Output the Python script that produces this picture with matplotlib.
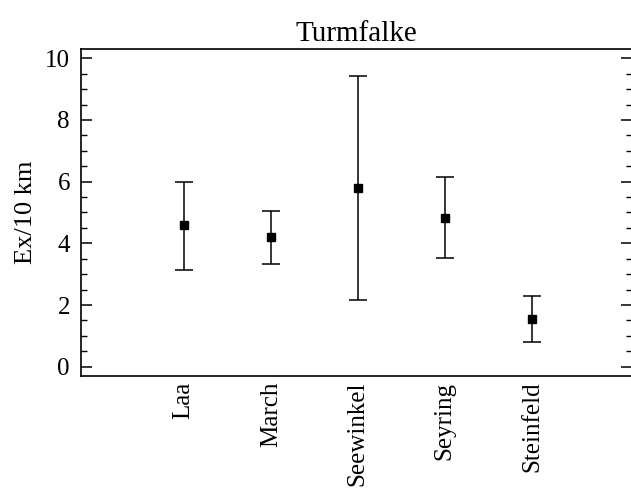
import matplotlib
matplotlib.use("Agg")
import matplotlib.pyplot as plt
from matplotlib.ticker import MultipleLocator

# data
sites = ["Laa", "March", "Seewinkel", "Seyring", "Steinfeld"]
mean = [4.59, 4.20, 5.78, 4.83, 1.55]
upper = [5.98, 5.06, 9.41, 6.14, 2.28]
lower = [3.15, 3.33, 2.15, 3.54, 0.80]

plt.rcParams["font.family"] = ["Liberation Serif", "DejaVu Serif"]

fig = plt.figure(figsize=(6.31, 4.91), dpi=100)
ax = fig.add_axes([81/631, 115/491, 551/631, 327/491])

pos = list(range(1, len(sites) + 1))
err = [[m - l for m, l in zip(mean, lower)], [u - m for m, u in zip(mean, upper)]]
ax.errorbar(pos, mean, yerr=err, fmt="s", color="black", ms=6,
            ecolor="black", elinewidth=1.1, capsize=6.5, capthick=1.1)

ax.set_xlim(-0.18, 6.15)
ax.set_ylim(-0.3, 10.3)
ax.set_xticks(pos)
ax.set_xticklabels(sites, rotation=90, fontsize=18)
ax.tick_params(axis="x", length=0, pad=4)
ax.yaxis.set_major_locator(MultipleLocator(2))
ax.yaxis.set_minor_locator(MultipleLocator(0.5))
ax.tick_params(axis="y", which="major", direction="in", length=8, width=1.1,
               labelsize=18, right=True, pad=8)
ax.tick_params(axis="y", which="minor", direction="in", length=4, width=1.0, right=True)
for s in ax.spines.values():
    s.set_linewidth(1.2)

ax.set_ylabel("Ex/10 km", fontsize=19, labelpad=6)
ax.set_title("Turmfalke", fontsize=21, pad=6)

fig.savefig("out.png", dpi=100)
